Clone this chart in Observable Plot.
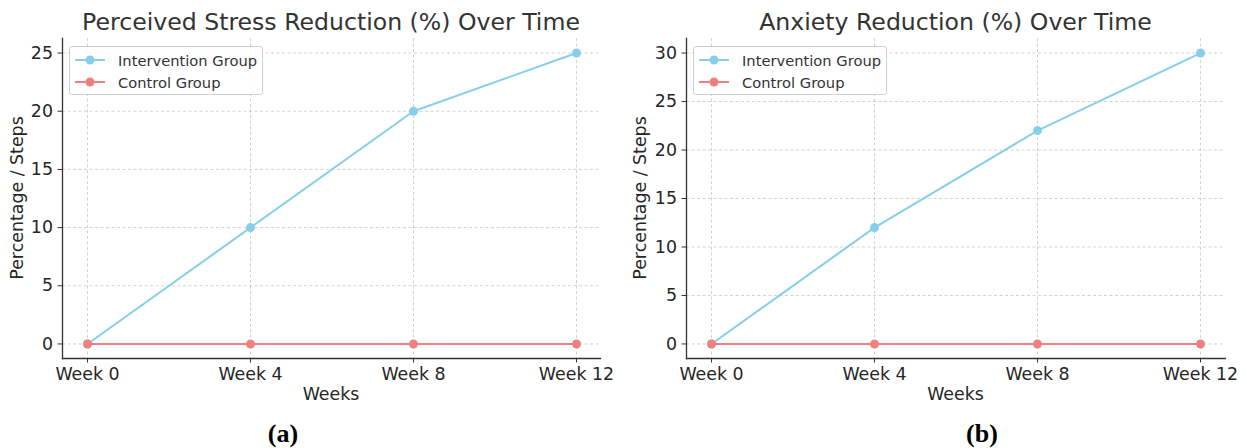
<!DOCTYPE html>
<html>
<head>
<meta charset="utf-8">
<script src="https://cdn.jsdelivr.net/npm/d3@7"></script>
<script src="https://cdn.jsdelivr.net/npm/@observablehq/plot@0.6"></script>
<style>
  html, body { margin: 0; padding: 0; background: #fff; }
  #root { position: relative; width: 1247px; height: 448px; overflow: hidden; font-family: "DejaVu Sans", sans-serif; }
  .panel { position: absolute; top: 0; }
  .txt { position: absolute; white-space: nowrap; transform: translate(-50%, -50%); line-height: 1; }
  .title { font-size: 23.6px; color: #333; }
  .axlab { font-size: 17.4px; color: #262626; }
  .cap { font-family: "Liberation Serif", "Times New Roman", serif; font-weight: bold; font-size: 26px; color: #000; }
  .legend { position: absolute; border: 1px solid #d0d0d0; border-radius: 3px; background: rgba(255,255,255,0.85); box-sizing: border-box; }
  .legrow { position: absolute; left: 0; height: 20px; display: block; }
  .legrow span { position: absolute; font-size: 14.7px; color: #333; top: 50%; transform: translateY(-50%); white-space: nowrap; }
</style>
</head>
<body>
<div id="root"></div>
<script>
// ---- data ----
const weeks = ["Week 0", "Week 4", "Week 8", "Week 12"];
const seriesNames = ["Intervention Group", "Control Group"];
const seriesColors = ["#87CEEB", "#F08080"];

const stressIntervention = [0, 10, 20, 25];
const stressControl = [0, 0, 0, 0];
const stressTicks = [0, 5, 10, 15, 20, 25];

const anxietyIntervention = [0, 12, 22, 30];
const anxietyControl = [0, 0, 0, 0];
const anxietyTicks = [0, 5, 10, 15, 20, 25, 30];

const titles = ["Perceived Stress Reduction (%) Over Time", "Anxiety Reduction (%) Over Time"];
const yLabel = "Percentage / Steps";
const xLabel = "Weeks";
const captions = ["(a)", "(b)"];

// ---- layout ----
const panels = [
  { left: 0, width: 623, ml: 62, mr: 23, title: titles[0], cap: captions[0], capX: 283,
    series: [stressIntervention, stressControl], ticks: stressTicks },
  { left: 623, width: 624, ml: 63, mr: 22, title: titles[1], cap: captions[1], capX: 982,
    series: [anxietyIntervention, anxietyControl], ticks: anxietyTicks }
];
const H = 448, MT = 38, MB = 90;
const root = document.getElementById("root");

function addText(cls, text, x, y, rotate) {
  const d = document.createElement("div");
  d.className = "txt " + cls;
  d.textContent = text;
  d.style.left = x + "px";
  d.style.top = y + "px";
  if (rotate) d.style.transform = "translate(-50%, -50%) rotate(-90deg)";
  root.appendChild(d);
}

panels.forEach(p => {
  const rows = [];
  p.series.forEach((vals, si) => vals.forEach((v, i) => rows.push({ week: weeks[i], value: v, series: seriesNames[si] })));
  const all = rows.map(r => r.value);
  const lo = d3.min(all), hi = d3.max(all), pad = (hi - lo) * 0.05;

  const marks = [
    Plot.gridX(weeks, { stroke: "#b8b8b8", strokeOpacity: 0.8, strokeDasharray: "3,2.5", strokeWidth: 0.8 }),
    Plot.gridY(p.ticks, { stroke: "#b8b8b8", strokeOpacity: 0.8, strokeDasharray: "3,2.5", strokeWidth: 0.8 }),
    Plot.axisX(weeks, { tickSize: 4.5, tickPadding: 4.5, fontSize: 17.4, fill: "#262626", stroke: "#333", label: null }),
    Plot.axisY(p.ticks, { tickSize: 4.5, tickPadding: 5, fontSize: 17.4, fill: "#262626", stroke: "#333", label: null }),
    Plot.frame({ anchor: "left", stroke: "#333", strokeWidth: 1.3 }),
    Plot.frame({ anchor: "bottom", stroke: "#333", strokeWidth: 1.3 })
  ];
  seriesNames.forEach((name, si) => {
    const data = rows.filter(r => r.series === name);
    marks.push(Plot.line(data, { x: "week", y: "value", stroke: seriesColors[si], strokeWidth: 2 }));
    marks.push(Plot.dot(data, { x: "week", y: "value", fill: seriesColors[si], r: 4.5, stroke: "none" }));
  });

  const chart = Plot.plot({
    width: p.width, height: H,
    marginLeft: p.ml, marginRight: p.mr, marginTop: MT, marginBottom: MB,
    style: { fontFamily: "DejaVu Sans, sans-serif", background: "transparent", overflow: "visible" },
    x: { type: "point", domain: weeks, padding: 0.15, axis: null },
    y: { domain: [lo - pad, hi + pad], axis: null },
    marks
  });
  chart.classList.add("panel");
  chart.style.left = p.left + "px";
  root.appendChild(chart);

  const x0 = p.left + p.ml, x1 = p.left + p.width - p.mr;
  const cx = (x0 + x1) / 2;
  addText("title", p.title, cx, 22.5);
  addText("axlab", xLabel, cx, 395);
  addText("axlab", yLabel, p.left + 18, (MT + H - MB) / 2, true);
  addText("cap", p.cap, p.capX, 434);

  // legend
  const lg = document.createElement("div");
  lg.className = "legend";
  lg.style.left = (x0 + 7) + "px";
  lg.style.top = "46px";
  lg.style.width = "194px";
  lg.style.height = "49px";
  seriesNames.forEach((name, si) => {
    const row = document.createElement("div");
    row.className = "legrow";
    row.style.top = (si === 0 ? 3 : 25) + "px";
    row.style.width = "190px";
    const svg = d3.create("svg").attr("width", 40).attr("height", 20).style("position", "absolute").style("left", "0px").style("top", "0px");
    svg.append("line").attr("x1", 5).attr("x2", 35).attr("y1", 10).attr("y2", 10).attr("stroke", seriesColors[si]).attr("stroke-width", 2);
    svg.append("circle").attr("cx", 20).attr("cy", 10).attr("r", 4.5).attr("fill", seriesColors[si]);
    row.appendChild(svg.node());
    const s = document.createElement("span");
    s.style.left = "48px";
    s.textContent = name;
    row.appendChild(s);
    lg.appendChild(row);
  });
  root.appendChild(lg);
});
</script>
</body>
</html>
